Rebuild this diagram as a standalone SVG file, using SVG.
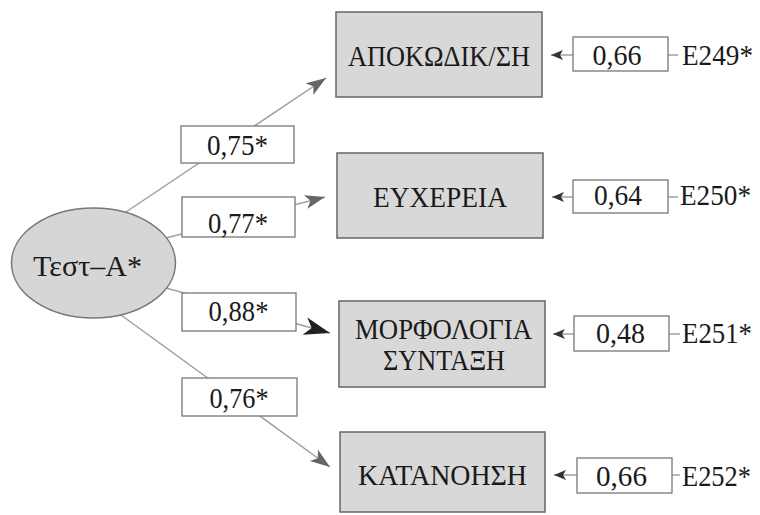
<svg xmlns="http://www.w3.org/2000/svg" width="760" height="515" viewBox="0 0 760 515">
<style>
.node{fill:#d8d8d8;stroke:#666;stroke-width:1.5}
.lat{fill:#d6d6d6;stroke:#777;stroke-width:1.5}
.lbl{fill:#fff;stroke:#777;stroke-width:1.3}
.edge{stroke:#a0a0a0;stroke-width:1.5;fill:none}
text{font-family:'Liberation Serif','Times New Roman',serif;fill:#1a1a1a}
.t{font-size:30px;text-anchor:middle}
.n{font-size:30px;text-anchor:middle}
.e{font-size:30px}
</style>
<defs>
<marker id="ag" markerUnits="userSpaceOnUse" markerWidth="22" markerHeight="16" refX="20" refY="7" orient="auto">
<path d="M0,0 L20,7 L0,14 L5,7 z" fill="#666"/>
</marker>
<marker id="ab" markerUnits="userSpaceOnUse" markerWidth="28" markerHeight="20" refX="26" refY="9" orient="auto">
<path d="M0,0 L26,9 L0,18 L7,9 z" fill="#222"/>
</marker>
<marker id="as" markerUnits="userSpaceOnUse" markerWidth="14" markerHeight="12" refX="12" refY="5" orient="auto">
<path d="M0,0 L12,5 L0,10 L3,5 z" fill="#333"/>
</marker>
</defs>
<g id="connectors">
<line class="edge" x1="126" y1="212" x2="326" y2="78" marker-end="url(#ag)"/>
<line class="edge" x1="166" y1="238" x2="325" y2="197" marker-end="url(#ag)"/>
<line class="edge" x1="166" y1="288" x2="330" y2="333" marker-end="url(#ab)"/>
<line class="edge" x1="121" y1="315" x2="330" y2="467" marker-end="url(#ag)"/>
<line class="edge" x1="678" y1="55" x2="551" y2="55" marker-end="url(#as)"/>
<line class="edge" x1="678" y1="197" x2="552" y2="197" marker-end="url(#as)"/>
<line class="edge" x1="680" y1="334" x2="553" y2="334" marker-end="url(#as)"/>
<line class="edge" x1="680" y1="475" x2="554" y2="475" marker-end="url(#as)"/>
</g>
<g id="w1"><rect class="lbl" x="181" y="126" width="113" height="37"/><text class="n" x="237.5" y="155" textLength="61" lengthAdjust="spacingAndGlyphs">0,75*</text></g>
<g id="w2"><rect class="lbl" x="182" y="197" width="113" height="40"/><text class="n" x="238" y="233" textLength="60" lengthAdjust="spacingAndGlyphs">0,77*</text></g>
<g id="w3"><rect class="lbl" x="182" y="293" width="114" height="38"/><text class="n" x="238.5" y="321" textLength="60" lengthAdjust="spacingAndGlyphs">0,88*</text></g>
<g id="w4"><rect class="lbl" x="182" y="378" width="115" height="38"/><text class="n" x="239" y="408" textLength="59" lengthAdjust="spacingAndGlyphs">0,76*</text></g>
<g id="testA"><ellipse class="lat" cx="93.5" cy="263" rx="82" ry="55"/><text class="t" x="87.5" y="276" textLength="109" lengthAdjust="spacingAndGlyphs">Τεστ–Α*</text></g>
<g id="n1"><rect class="node" x="336" y="12" width="206" height="85"/><text class="t" x="439" y="66" textLength="182" lengthAdjust="spacingAndGlyphs">ΑΠΟΚΩΔΙΚ/ΣΗ</text></g>
<g id="n2"><rect class="node" x="337" y="153" width="206" height="85"/><text class="t" x="440" y="207" textLength="134" lengthAdjust="spacingAndGlyphs">ΕΥΧΕΡΕΙΑ</text></g>
<g id="n3"><rect class="node" x="339" y="301" width="206" height="86"/><text class="t" x="443.5" y="339" textLength="177" lengthAdjust="spacingAndGlyphs">ΜΟΡΦΟΛΟΓΙΑ</text><text class="t" x="444" y="370" textLength="122" lengthAdjust="spacingAndGlyphs">ΣΥΝΤΑΞΗ</text></g>
<g id="n4"><rect class="node" x="340" y="432" width="205" height="80"/><text class="t" x="442.5" y="485" textLength="169" lengthAdjust="spacingAndGlyphs">ΚΑΤΑΝΟΗΣΗ</text></g>
<g id="e1"><rect class="lbl" x="573" y="37" width="95" height="34"/><text class="n" x="617" y="65" textLength="49" lengthAdjust="spacingAndGlyphs">0,66</text><text class="e" x="682" y="65" textLength="71" lengthAdjust="spacingAndGlyphs">E249*</text></g>
<g id="e2"><rect class="lbl" x="573" y="180" width="95" height="33"/><text class="n" x="618" y="205" textLength="48" lengthAdjust="spacingAndGlyphs">0,64</text><text class="e" x="680" y="205" textLength="71" lengthAdjust="spacingAndGlyphs">E250*</text></g>
<g id="e3"><rect class="lbl" x="574" y="316" width="95" height="35"/><text class="n" x="620.5" y="343" textLength="49" lengthAdjust="spacingAndGlyphs">0,48</text><text class="e" x="682" y="343" textLength="70" lengthAdjust="spacingAndGlyphs">E251*</text></g>
<g id="e4"><rect class="lbl" x="577" y="458" width="95" height="35"/><text class="n" x="621.5" y="486" textLength="51" lengthAdjust="spacingAndGlyphs">0,66</text><text class="e" x="682" y="486" textLength="69" lengthAdjust="spacingAndGlyphs">E252*</text></g>
</svg>
